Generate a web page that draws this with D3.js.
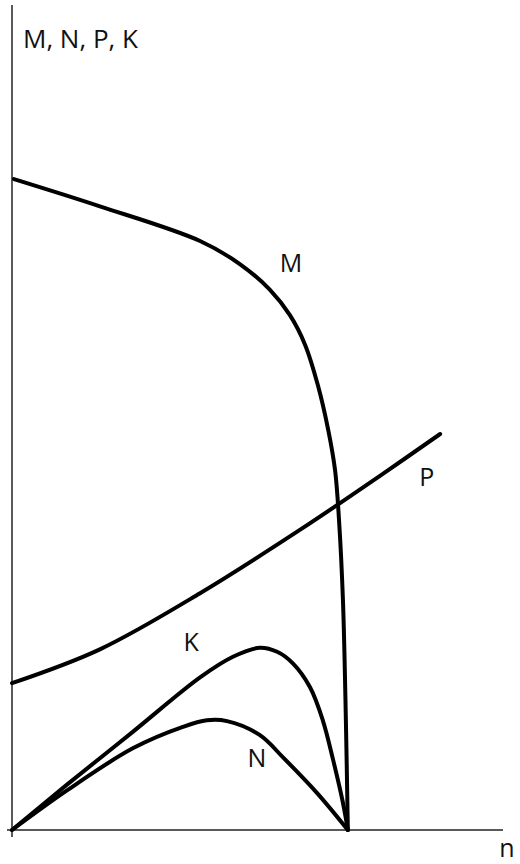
<!DOCTYPE html>
<html>
<head>
<meta charset="utf-8">
<script src="https://cdn.jsdelivr.net/npm/d3@7"></script>
<style>
  html, body { margin: 0; padding: 0; background: #fff; }
</style>
</head>
<body>
<div id="chart"></div>
<script>
// curve points (n on x, value on y, arbitrary units 0..10)
const curveM = [
    [0.04, 7.89], [1.79, 7.56], [3.83, 7.14], [4.64, 6.86], [5.25, 6.55],
    [5.66, 6.24], [5.97, 5.88], [6.23, 5.39], [6.44, 4.85], [6.58, 4.36],
    [6.66, 3.76], [6.74, 2.79], [6.80, 1.33], [6.84, 0]
];
const curveP = [
    [0, 1.78], [1.79, 2.19], [3.83, 2.87], [5.87, 3.64], [7.56, 4.32], [8.72, 4.80]
];
const curveK = [
    [0, 0], [1.12, 0.55], [2.46, 1.19], [3.83, 1.85], [4.50, 2.10],
    [5.05, 2.21], [5.40, 2.16], [5.72, 2.02], [6.07, 1.73], [6.33, 1.33],
    [6.54, 0.85], [6.74, 0.33], [6.84, 0]
];
const curveN = [
    [0, 0], [1.12, 0.48], [2.46, 0.99], [3.48, 1.25], [3.97, 1.33],
    [4.38, 1.32], [5.05, 1.15], [5.52, 0.88], [6.21, 0.45], [6.84, 0]
];
const curveNames = ["M", "P", "K", "N"];
const labelSpots = [[5.68, 6.87], [8.45, 4.27], [3.65, 2.28], [4.99, 0.87]];
const yTitle = "M, N, P, K";
const xTitle = "n";

const width = 520;
const height = 864;

const svg = d3.select("#chart")
    .append("svg")
    .attr("width", width)
    .attr("height", height);

const x = d3.scaleLinear().domain([0, 10]).range([12, 503]);
const y = d3.scaleLinear().domain([0, 10]).range([830, 5]);

// axes: plain lines, no ticks
svg.append("line")
    .attr("x1", x(0)).attr("x2", x(0))
    .attr("y1", y(10)).attr("y2", y(0) + 7)
    .attr("stroke", "#222")
    .attr("stroke-width", 1.5);

svg.append("line")
    .attr("x1", x(0) - 5).attr("x2", x(10))
    .attr("y1", y(0)).attr("y2", y(0))
    .attr("stroke", "#222")
    .attr("stroke-width", 1.5);

const line = d3.line()
    .x(d => x(d[0]))
    .y(d => y(d[1]))
    .curve(d3.curveCatmullRom.alpha(0.5));

[curveM, curveP, curveK, curveN].forEach(function (pts) {
    svg.append("path")
        .datum(pts)
        .attr("fill", "none")
        .attr("stroke", "#000")
        .attr("stroke-width", 4)
        .attr("stroke-linecap", "round")
        .attr("stroke-linejoin", "round")
        .attr("d", line);
});

curveNames.forEach(function (name, i) {
    svg.append("text")
        .attr("x", x(labelSpots[i][0]))
        .attr("y", y(labelSpots[i][1]))
        .attr("dy", "0.35em")
        .attr("text-anchor", "middle")
        .style("font-family", "Open Sans")
        .style("font-size", "25px")
        .style("fill", "#111")
        .text(name);
});

svg.append("text")
    .attr("x", 23)
    .attr("y", 48)
    .style("font-family", "Open Sans")
    .style("font-size", "26px")
    .style("fill", "#111")
    .text(yTitle);

svg.append("text")
    .attr("x", 507)
    .attr("y", 857)
    .attr("text-anchor", "middle")
    .style("font-family", "Open Sans")
    .style("font-size", "25px")
    .style("fill", "#111")
    .text(xTitle);
</script>
</body>
</html>
